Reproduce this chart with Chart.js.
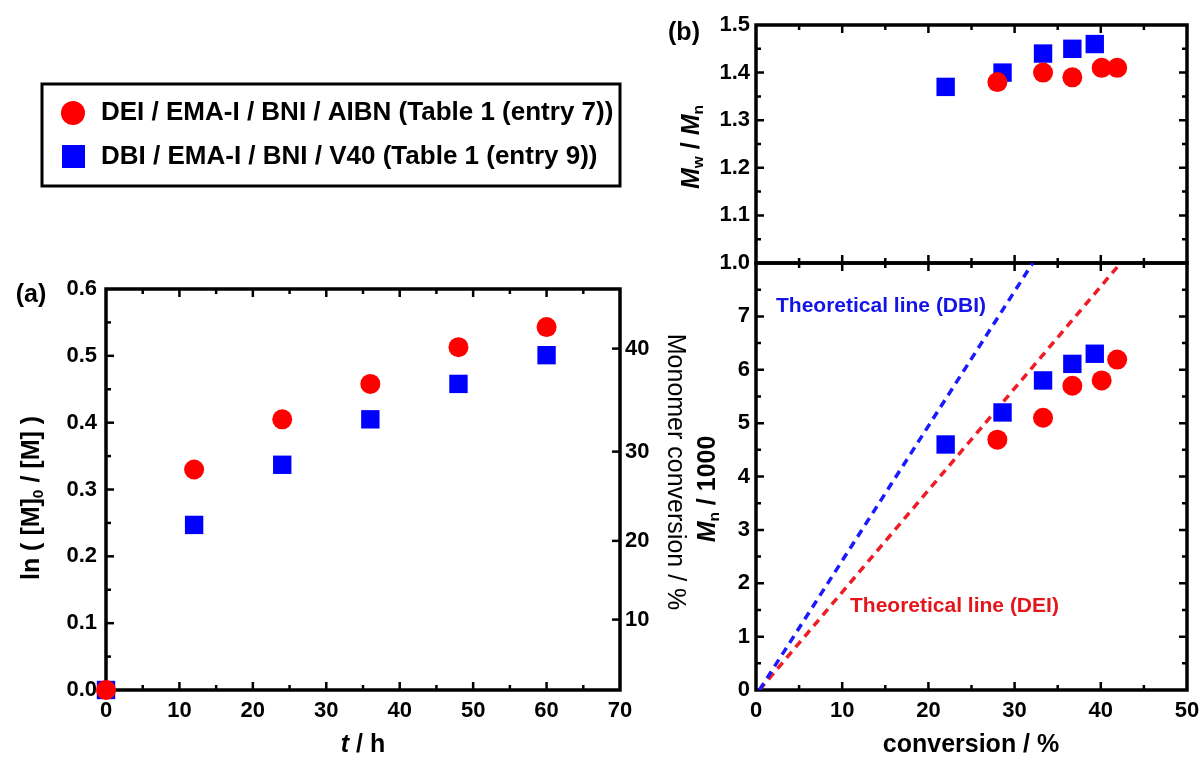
<!DOCTYPE html>
<html>
<head>
<meta charset="utf-8">
<script src="https://cdn.jsdelivr.net/npm/chart.js@4.4.1/dist/chart.umd.min.js"></script>
<style>
body { margin: 0; background: #fff; }
#wrap { position: relative; width: 1203px; height: 758px; }
canvas { position: absolute; left: 0; top: 0; }
</style>
</head>
<body>
<div id="wrap">
  <canvas id="kinetics" width="1203" height="758"></canvas>
  <canvas id="dispersity" width="1203" height="758"></canvas>
  <canvas id="molweight" width="1203" height="758"></canvas>
</div>
<script>
// (a) ln([M]0/[M]) vs time
const timeHours = [0, 12, 24, 36, 48, 60];
const lnDEI = [0, 0.330, 0.405, 0.458, 0.513, 0.543];
const lnDBI = [0, 0.247, 0.337, 0.405, 0.458, 0.501];
const conversionTicks = [10, 20, 30, 40];

// (b) Mw/Mn and Mn/1000 vs conversion
const convDEI = [28.0, 33.3, 36.7, 40.1, 41.9];
const pdiDEI = [1.38, 1.40, 1.39, 1.41, 1.41];
const mnDEI = [4.69, 5.10, 5.70, 5.80, 6.19];
const convDBI = [22.0, 28.6, 33.3, 36.7, 39.3];
const pdiDBI = [1.37, 1.40, 1.44, 1.45, 1.46];
const mnDBI = [4.60, 5.20, 5.80, 6.11, 6.30];

// theoretical lines, end points
const theoryDBIx = [0.4, 32.1];
const theoryDEIx = [0.4, 42.3];
const theoryY = [0, 8];

const legendLabels = [
    'DEI / EMA-I / BNI / AIBN (Table 1 (entry 7))',
    'DBI / EMA-I / BNI / V40 (Table 1 (entry 9))'
];

const RED = '#ff0000';
const BLUE = '#0000ff';
const FONT = '"Liberation Sans", Arial, sans-serif';
const tickFont = { family: FONT, size: 22, weight: 'bold' };

Chart.defaults.font.family = FONT;
Chart.defaults.color = '#000';

const pts = (xs, ys) => xs.map((x, i) => ({ x: x, y: ys[i] }));

function dotSet(label, data, style) {
    return {
        label: label,
        data: data,
        pointStyle: style,
        pointRadius: style === 'circle' ? 10 : 13,
        pointBackgroundColor: style === 'circle' ? RED : BLUE,
        pointBorderWidth: 0,
        showLine: false,
        clip: false
    };
}

// text with italic / subscript runs, centred on (cx, cy)
function richText(ctx, runs, cx, cy, rot, size, weight) {
    ctx.save();
    ctx.translate(cx, cy);
    ctx.rotate(rot);
    ctx.textBaseline = 'middle';
    ctx.textAlign = 'left';
    const parts = runs.map(r => {
        const st = r[1] || '';
        const sz = st.includes('s') ? size * 0.62 : size;
        const font = (st.includes('i') ? 'italic ' : '') + (weight || 'bold') + ' ' + sz + 'px ' + FONT;
        ctx.font = font;
        return { t: r[0], font: font, w: ctx.measureText(r[0]).width, dy: st.includes('s') ? size * 0.28 : 0 };
    });
    let x = -parts.reduce((s, p) => s + p.w, 0) / 2;
    parts.forEach(p => {
        ctx.font = p.font;
        ctx.fillText(p.t, x, p.dy);
        x += p.w;
    });
    ctx.restore();
}

function tickRange(min, max, step) {
    const out = [];
    for (let v = min; v <= max + 1e-9; v += step) out.push(+v.toFixed(6));
    return out;
}

// frame and inward ticks on all four sides
const frameTicks = {
    id: 'frameTicks',
    beforeDatasetsDraw(chart, args, opts) {
        const { ctx, chartArea: a } = chart;
        ctx.save();
        ctx.strokeStyle = '#000';
        ctx.lineWidth = 3.5;
        ctx.strokeRect(a.left, a.top, a.right - a.left, a.bottom - a.top);
        ctx.lineWidth = 2.5;
        const isMajor = (v, step) => Math.abs(v / step - Math.round(v / step)) < 1e-6;
        const xs = chart.scales.x;
        tickRange(xs.min, xs.max, opts.xMinor).forEach(v => {
            if (v <= xs.min || v >= xs.max) return;
            const len = isMajor(v, opts.xMajor) ? 8 : 5;
            const px = xs.getPixelForValue(v);
            ctx.beginPath();
            ctx.moveTo(px, a.bottom); ctx.lineTo(px, a.bottom - len);
            ctx.moveTo(px, a.top); ctx.lineTo(px, a.top + len);
            ctx.stroke();
        });
        const ys = chart.scales.y;
        tickRange(ys.min, ys.max, opts.yMinor).forEach(v => {
            if (v <= ys.min + 1e-9 || v >= ys.max - 1e-9) return;
            const len = isMajor(v - ys.min, opts.yMajor) ? 8 : 5;
            const py = ys.getPixelForValue(v);
            ctx.beginPath();
            ctx.moveTo(a.left, py); ctx.lineTo(a.left + len, py);
            if (!opts.rightValues) { ctx.moveTo(a.right, py); ctx.lineTo(a.right - len, py); }
            ctx.stroke();
        });
        if (opts.rightValues) {
            const r = chart.scales.y2;
            opts.rightValues.forEach(v => {
                const py = r.getPixelForValue(v);
                ctx.beginPath();
                ctx.moveTo(a.right, py); ctx.lineTo(a.right - 8, py);
                ctx.stroke();
            });
        }
        ctx.restore();
    }
};

const labelsA = {
    id: 'labelsA',
    afterDraw(chart) {
        const ctx = chart.ctx;
        ctx.save();
        ctx.fillStyle = '#000';
        richText(ctx, [['(a)']], 31, 295, 0, 25);
        richText(ctx, [['ln ( [M]'], ['0', 's'], [' / [M] )']], 32, 498, -Math.PI / 2, 25);
        richText(ctx, [['Monomer conversion / %']], 675, 472, Math.PI / 2, 25, 'normal');
        richText(ctx, [['t', 'i'], [' / h']], 363, 745, 0, 25);
        // legend box
        ctx.strokeStyle = '#000';
        ctx.lineWidth = 3;
        ctx.strokeRect(42, 84, 578, 102);
        ctx.fillStyle = RED;
        ctx.beginPath(); ctx.arc(73, 113, 12, 0, Math.PI * 2); ctx.fill();
        ctx.fillStyle = BLUE;
        ctx.fillRect(62, 145, 23, 23);
        ctx.fillStyle = '#000';
        ctx.font = 'bold 26px ' + FONT;
        ctx.textBaseline = 'middle';
        ctx.fillText(legendLabels[0], 101, 113);
        ctx.fillText(legendLabels[1], 101, 157);
        ctx.restore();
    }
};

const labelsB1 = {
    id: 'labelsB1',
    afterDraw(chart) {
        const ctx = chart.ctx;
        ctx.fillStyle = '#000';
        richText(ctx, [['(b)']], 684, 33, 0, 25);
        richText(ctx, [['M', 'i'], ['w', 's'], [' / '], ['M', 'i'], ['n', 's']], 692, 147, -Math.PI / 2, 25);
    }
};

const labelsB2 = {
    id: 'labelsB2',
    afterDraw(chart) {
        const ctx = chart.ctx;
        ctx.fillStyle = '#000';
        richText(ctx, [['M', 'i'], ['n', 's'], [' / 1000']], 708, 489, -Math.PI / 2, 25);
        richText(ctx, [['conversion / %']], 971, 745, 0, 25);
        ctx.save();
        ctx.font = 'bold 21px ' + FONT;
        ctx.textBaseline = 'middle';
        ctx.fillStyle = '#1414e6';
        ctx.fillText('Theoretical line (DBI)', 776, 306);
        ctx.fillStyle = '#e3161c';
        ctx.fillText('Theoretical line (DEI)', 850, 606);
        ctx.restore();
    }
};

function axis(min, max, step, extra) {
    return Object.assign({
        type: 'linear',
        min: min,
        max: max,
        grid: { display: false, drawTicks: false },
        border: { display: false },
        ticks: { stepSize: step, font: tickFont, color: '#000', autoSkip: false, maxRotation: 0 }
    }, extra);
}

// fixed x axis height, no extra room for end labels
const fitX = s => { s.height = 68; s.paddingLeft = 0; s.paddingRight = 0; };

const base = {
    type: 'scatter',
    plugins: [frameTicks],
    options: {
        responsive: false,
        animation: false,
        events: [],
        devicePixelRatio: 1,
        plugins: { legend: { display: false }, tooltip: { enabled: false } }
    }
};

// panel (a)
const kineticsChart = new Chart(document.getElementById('kinetics'), {
    type: 'scatter',
    data: {
        datasets: [
            dotSet(legendLabels[0], pts(timeHours, lnDEI), 'circle'),
            dotSet(legendLabels[1], pts(timeHours, lnDBI), 'rect')
        ]
    },
    plugins: [frameTicks, labelsA],
    options: Object.assign({}, base.options, {
        layout: { padding: { top: 289, right: 503, bottom: 0, left: 0 } },
        plugins: Object.assign({}, base.options.plugins, {
            frameTicks: {
                xMajor: 10, xMinor: 5, yMajor: 0.1, yMinor: 0.05,
                rightValues: conversionTicks.map(c => -Math.log(1 - c / 100))
            }
        }),
        scales: {
            x: axis(0, 70, 10, { afterFit: fitX }),
            y: axis(0, 0.6, 0.1, { afterFit: s => { s.width = 106; } }),
            y2: axis(0, 0.6, 0.1, {
                position: 'right',
                afterBuildTicks: s => { s.ticks = conversionTicks.map(c => ({ value: -Math.log(1 - c / 100) })); },
                afterFit: s => { s.width = 80; }
            })
        }
    })
});
kineticsChart.options.scales.x.ticks.padding = 8;
kineticsChart.options.scales.y.ticks.padding = 9;
kineticsChart.options.scales.y.ticks.callback = v => v.toFixed(1);
kineticsChart.options.scales.y2.ticks.padding = 5;
kineticsChart.options.scales.y2.ticks.callback = (v, i) => String(conversionTicks[i]);
kineticsChart.update();

// panel (b), upper: Mw/Mn
const dispersityChart = new Chart(document.getElementById('dispersity'), {
    type: 'scatter',
    data: {
        datasets: [
            dotSet(legendLabels[0], pts(convDEI, pdiDEI), 'circle'),
            dotSet(legendLabels[1], pts(convDBI, pdiDBI), 'rect')
        ]
    },
    plugins: [frameTicks, labelsB1],
    options: Object.assign({}, base.options, {
        layout: { padding: { top: 25, right: 16, bottom: 495, left: 640 } },
        plugins: Object.assign({}, base.options.plugins, {
            frameTicks: { xMajor: 10, xMinor: 5, yMajor: 0.1, yMinor: 0.05 }
        }),
        scales: {
            x: axis(0, 50, 10, { display: false }),
            y: axis(1.0, 1.5, 0.1, { afterFit: s => { s.width = 116; } })
        }
    })
});
dispersityChart.options.scales.y.ticks.padding = 6;
dispersityChart.options.scales.y.ticks.callback = v => v.toFixed(1);
dispersityChart.update();

// panel (b), lower: Mn/1000
const molweightChart = new Chart(document.getElementById('molweight'), {
    type: 'scatter',
    data: {
        datasets: [
            dotSet(legendLabels[0], pts(convDEI, mnDEI), 'circle'),
            dotSet(legendLabels[1], pts(convDBI, mnDBI), 'rect'),
            {
                type: 'line', label: 'Theoretical line (DBI)', data: pts(theoryDBIx, theoryY),
                borderColor: '#1a1aff', borderWidth: 3.5, borderDash: [8, 6], pointRadius: 0, order: 2
            },
            {
                type: 'line', label: 'Theoretical line (DEI)', data: pts(theoryDEIx, theoryY),
                borderColor: '#ee1c24', borderWidth: 3.5, borderDash: [8, 6], pointRadius: 0, order: 2
            }
        ]
    },
    plugins: [frameTicks, labelsB2],
    options: Object.assign({}, base.options, {
        layout: { padding: { top: 263, right: 16, bottom: 0, left: 640 } },
        plugins: Object.assign({}, base.options.plugins, {
            frameTicks: { xMajor: 10, xMinor: 5, yMajor: 1, yMinor: 0.5 }
        }),
        scales: {
            x: axis(0, 50, 10, { afterFit: fitX }),
            y: axis(0, 8, 1, { afterFit: s => { s.width = 116; } })
        }
    })
});
molweightChart.options.scales.x.ticks.padding = 8;
molweightChart.options.scales.y.ticks.padding = 6;
molweightChart.options.scales.y.ticks.callback = v => (v === 8 ? '' : String(v));
molweightChart.update();
</script>
</body>
</html>
